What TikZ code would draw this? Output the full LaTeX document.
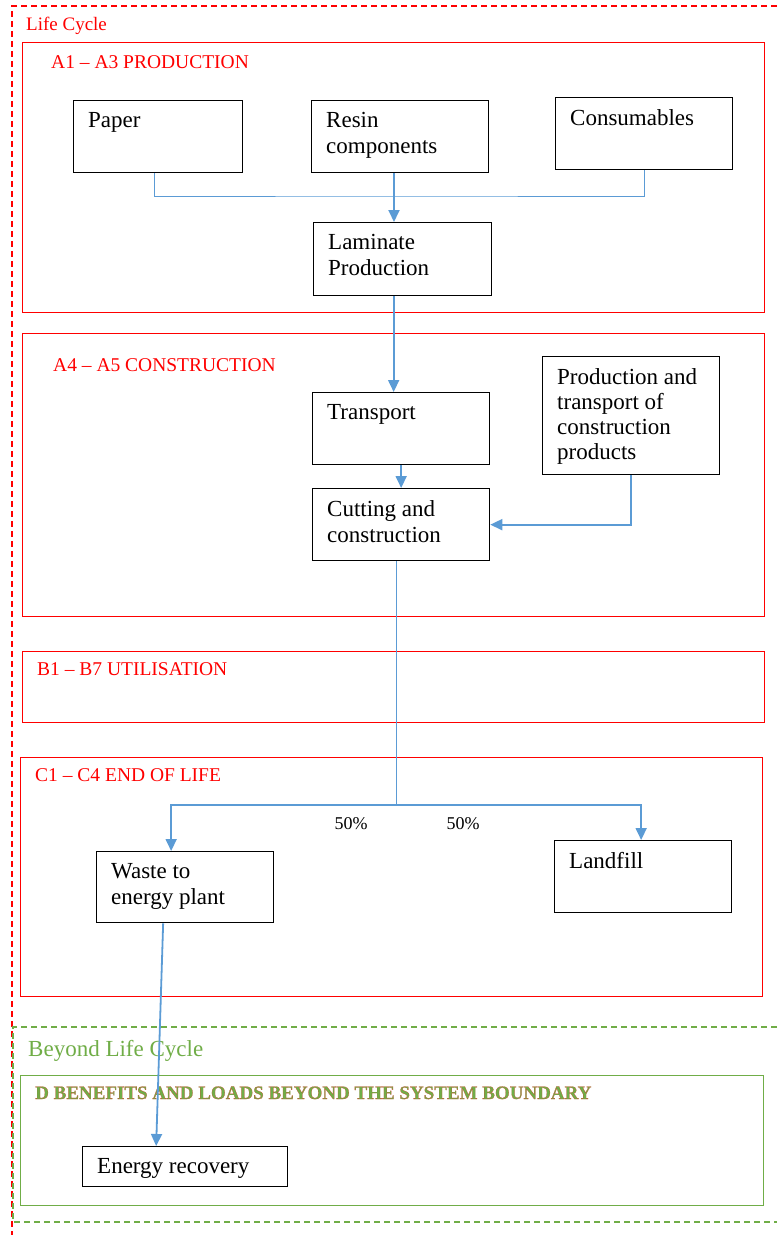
\documentclass[tikz,border=0pt]{standalone}
\usepackage{fontspec}
\setmainfont{Liberation Serif}
\usetikzlibrary{arrows.meta, positioning}

\definecolor{flowblue}{HTML}{5B9BD5}
\definecolor{beyondgreen}{HTML}{70AD47}

% green letters with a thin red outline
\newcommand{\redrim}[1]{\special{pdf:code 0.8 0.3 0.2 RG 0.2 w 2 Tr}#1\special{pdf:code 0 Tr}}

\tikzset{
  stage/.style={draw=red, line width=1.2pt, anchor=north west},
  dstage/.style={draw=beyondgreen, line width=1.2pt, anchor=north west},
  title/.style={text=red, anchor=base west, inner sep=0pt, font=\fontsize{19.5}{22}\selectfont},
  box/.style={draw, line width=1.3pt, anchor=north west, minimum width=177, minimum height=72},
  boxtext/.style={anchor=north west, align=left, inner xsep=15pt, inner ysep=12pt, font=\fontsize{23}{26}\selectfont},
  link/.style={flowblue, line width=1pt},
  flow/.style={flowblue, line width=1.8pt, -{Triangle[length=12pt,width=11pt]}},
  pct/.style={inner sep=0pt, font=\fontsize{18}{20}\selectfont},
}

\begin{document}
\begin{tikzpicture}[x=1pt, y=-1pt]
\useasboundingbox (0,0) rectangle (777,1235);

% system boundaries
\draw[red, line width=1.2pt, dash pattern=on 6pt off 4pt] (777,6) -| (12,1235);
\draw[beyondgreen, line width=1.2pt, dash pattern=on 6pt off 4pt] (777,1027) -| (13,1222) -- (777,1222);
\node[title, font=\fontsize{19}{22}\selectfont] (lctitle) at (26,30) {Life Cycle};
\node[title, text=beyondgreen, font=\fontsize{23}{26}\selectfont] (bdtitle) at (28,1056) {Beyond Life Cycle};

% stages
\node[stage, minimum width=742, minimum height=270] (prod) at (22,42) {};
\node[stage, minimum width=742, minimum height=283] (constr) at (22,333) {};
\node[stage, minimum width=742, minimum height=71] (util) at (22,651) {};
\node[stage, minimum width=742, minimum height=239] (eol) at (20,757) {};
\node[dstage, minimum width=743, minimum height=130] (bnd) at (20,1075) {};

\node[title] (prodtitle) at (51,68) {A1 -- A3 PRODUCTION};
\node[title] (constrtitle) at (53,371) {A4 -- A5 CONSTRUCTION};
\node[title] (utiltitle) at (37,675) {B1 -- B7 UTILISATION};
\node[title] (eoltitle) at (35,781) {C1 -- C4 END OF LIFE};
\node[title, text=beyondgreen, font=\fontsize{19}{22}\bfseries] (bndtitle) at (35,1099) {\redrim{D BENEFITS AND LOADS BEYOND THE SYSTEM BOUNDARY}};

% process boxes
\node[box, minimum width=169, label={[boxtext]north west:Paper}] (paper) at (73,100) {};
\node[box, label={[boxtext]north west:Resin\\components}] (resin) at (311,100) {};
\node[box, label={[boxtext]north west:Consumables}] (consum) at (555,97) {};
\node[box, minimum width=178, minimum height=73, label={[boxtext]north west:Laminate\\Production}] (laminate) at (313,222) {};

\node[box, label={[boxtext]north west:Transport}] (transport) at (312,392) {};
\node[box, minimum height=118, label={[boxtext, font=\fontsize{23}{25}\selectfont]north west:Production and\\transport of\\construction\\products}] (prodtrans) at (542,356) {};
\node[box, label={[boxtext]north west:Cutting and\\construction}] (cutting) at (312,488) {};

\node[box, minimum height=71, label={[boxtext]north west:Waste to\\energy plant}] (waste) at (96,851) {};
\node[box, label={[boxtext]north west:Landfill}] (landfill) at (554,840) {};

\node[box, minimum width=205, minimum height=40, label={[boxtext]north west:Energy recovery}] (energy) at (82,1146) {};

% connectors
\coordinate (mix) at (394,196);
\coordinate (split) at (396,805);
\draw[link] ([xshift=-4]paper.south) |- (mix) -| (consum.south);
\draw[flow] (mix |- resin.south) -- (mix |- laminate.north);
\draw[flow] ([xshift=-9]laminate.south) -- ([xshift=-9]laminate.south |- transport.north);
\draw[flow] (transport) -- (cutting);
\draw[flow] (prodtrans.south) |- (cutting.east);
\draw[link] (split |- cutting.south) -- (split);
\draw[flow] (split) -| ([xshift=-14]waste.north);
\draw[flow] (split) -| ([xshift=-2]landfill.north);
\draw[flow] ([xshift=-22]waste.south) -- ([xshift=-29]energy.north);

\node[pct] (pctwaste) at (351,824) {50\%};
\node[pct] (pctlandfill) at (463,824) {50\%};
\end{tikzpicture}
\end{document}
